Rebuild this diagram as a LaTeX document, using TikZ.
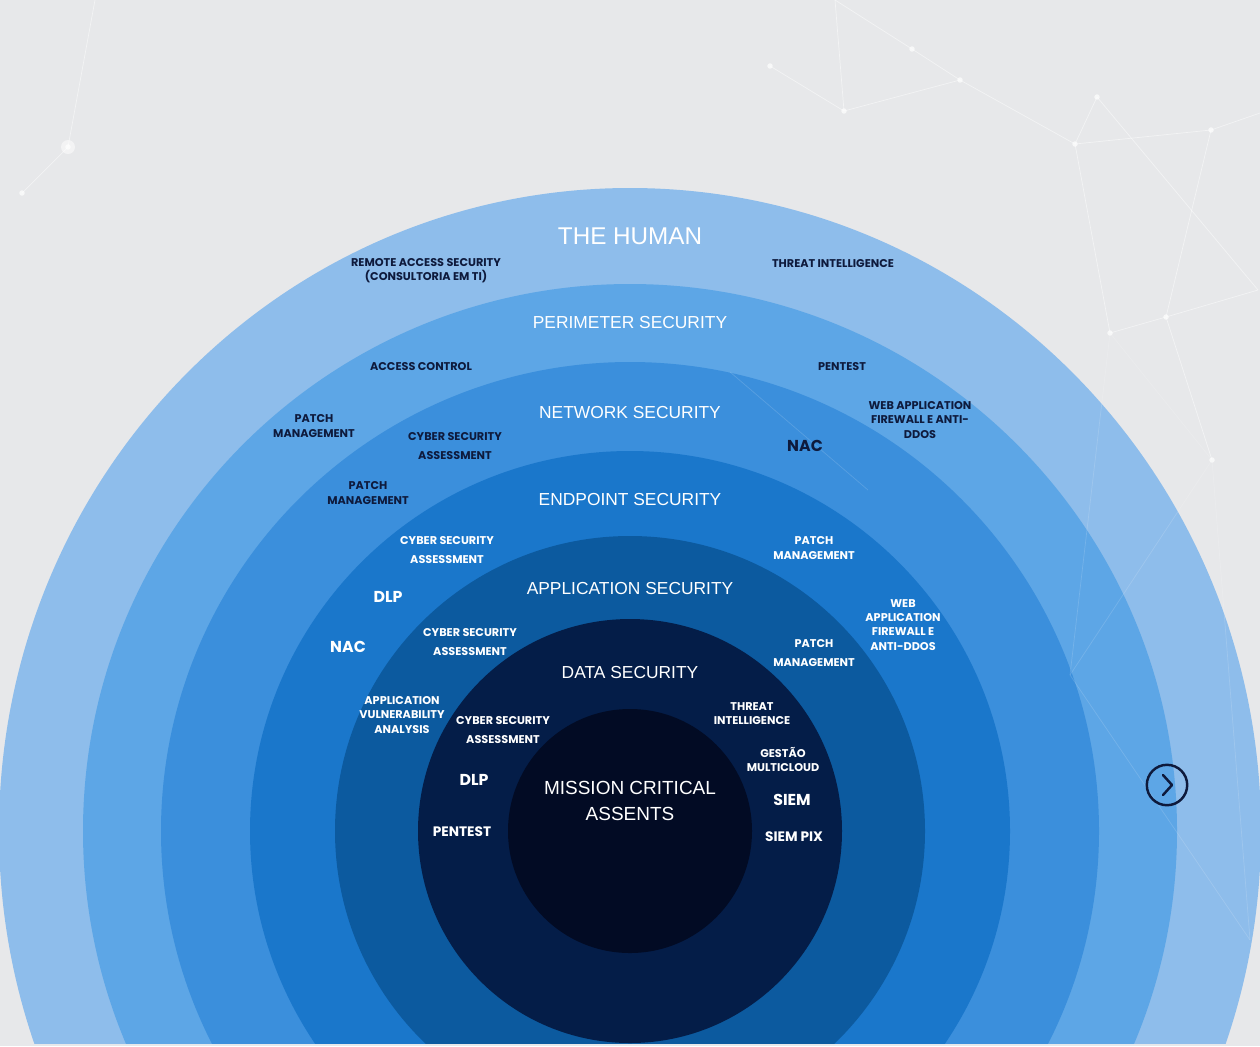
\documentclass[tikz,border=0pt]{standalone}
\usepackage{fontspec}
\setmainfont{Liberation Sans}
\newfontfamily\lblfont{Poppins}
\definecolor{bggray}{HTML}{E7E8EA}
\definecolor{ringA}{HTML}{8EBDEB}
\definecolor{ringB}{HTML}{5DA6E6}
\definecolor{ringC}{HTML}{3B8FDC}
\definecolor{ringD}{HTML}{1A77CB}
\definecolor{ringE}{HTML}{0C5A9F}
\definecolor{ringF}{HTML}{041D48}
\definecolor{ringG}{HTML}{020B24}
\definecolor{navy}{HTML}{0E1A3C}
\begin{document}
\begin{tikzpicture}[x=0.02cm,y=-0.02cm,
  ttl/.style={text=white,font=\fontsize{9.9}{12}\selectfont,inner sep=0pt},
  lbl/.style={text=navy,font=\lblfont\bfseries\fontsize{6.4}{8}\selectfont,align=center,inner sep=0pt},
  lbl loose/.style={lbl,font=\lblfont\bfseries\fontsize{6.4}{10.3}\selectfont},
  lbl big/.style={lbl,font=\lblfont\bfseries\fontsize{9}{10}\selectfont},
  lbl mid/.style={lbl,font=\lblfont\bfseries\fontsize{7.8}{9}\selectfont},
  netline/.style={white,line width=0.4pt,opacity=0.5},
  netdot/.style={circle,fill=white,inner sep=1.1pt,opacity=0.7}]
\useasboundingbox (0,0) rectangle (1260,1046);
\fill[bggray] (0,0) rectangle (1260,1046);
% background network
\coordinate (n1) at (68,147);
\coordinate (n2) at (22,193);
\coordinate (n3) at (770,66);
\coordinate (n4) at (844,111);
\coordinate (n5) at (912,49);
\coordinate (n6) at (960,80);
\coordinate (n7) at (943,7);
\coordinate (n8) at (1097,97);
\coordinate (n9) at (1075,144);
\coordinate (n10) at (1211,130);
\coordinate (n11) at (835,0);
\coordinate (n12) at (1260,113);
\coordinate (n13) at (1110,333);
\coordinate (n14) at (1166,317);
\coordinate (n15) at (1212,460);
\coordinate (n16) at (1258,290);
\coordinate (n20) at (95,0);
\foreach \a/\b in {n2/n1,n1/n20,n4/n6,n4/n3,n6/n9,n9/n10,n10/n12,n6/n5,n5/n11,n4/n11,n9/n8,n8/n16,n10/n14,n14/n16,n14/n15,n13/n14,n9/n13}
  \draw[netline] (\a) -- (\b);
\foreach \p in {n1,n2,n3,n4,n5,n6,n8,n9,n10,n13,n14,n15}
  \node[netdot] at (\p) {};
\fill[white,opacity=0.5] (n1) circle (7);
% rings
\begin{scope}
\clip (0,0) rectangle (1260,1043);
\fill[ringA] (630,831) ellipse [x radius=631, y radius=643];
\fill[ringB] (630,831) circle [radius=547];
\fill[ringC] (630,831) circle [radius=469];
\fill[ringD] (630,831) circle [radius=380];
\fill[ringE] (630,831) circle [radius=295];
\fill[ringF] (630,831) circle [radius=212];
\fill[ringG] (630,831) circle [radius=122];
\coordinate (m1) at (730,372);
\coordinate (m2) at (868,490);
\coordinate (m3) at (1070,675);
\coordinate (m4) at (1250,940);
\foreach \a/\b in {m1/m2,n13/m3,m3/n15,m3/m4,n15/m4,n13/n15}
  \draw[netline,opacity=0.15] (\a) -- (\b);
\end{scope}
% ring titles
\node[ttl,font=\fontsize{13.8}{16}\selectfont] (human) at (630,236) {THE HUMAN};
\node[ttl] (perimeter) at (630,323) {PERIMETER SECURITY};
\node[ttl] (network) at (630,412) {NETWORK SECURITY};
\node[ttl] (endpoint) at (630,499) {ENDPOINT SECURITY};
\node[ttl] (appsec) at (630,588) {APPLICATION SECURITY};
\node[ttl] (datasec) at (630,672) {DATA SECURITY};
\node[ttl,align=center,font=\fontsize{10.8}{14.8}\selectfont] (mission) at (630,801) {MISSION CRITICAL\\ASSENTS};
% outer labels
\node[lbl] (remote) at (426,271) {REMOTE ACCESS SECURITY\\(CONSULTORIA EM TI)};
\node[lbl] (threat1) at (833,264) {THREAT INTELLIGENCE};
\node[lbl] (access) at (421,367) {ACCESS CONTROL};
\node[lbl] (pentest1) at (842,367) {PENTEST};
\node[lbl] (patch1) at (314,426) {PATCH\\MANAGEMENT};
\node[lbl] (waf1) at (920,420) {WEB APPLICATION\\FIREWALL E ANTI-\\DDOS};
\node[lbl loose] (cyber1) at (455,446) {CYBER SECURITY\\ASSESSMENT};
\node[lbl big] (nac1) at (805,446) {NAC};
\node[lbl] (patch2) at (368,493) {PATCH\\MANAGEMENT};
% inner labels
\node[lbl loose,text=white] (cyber2) at (447,550) {CYBER SECURITY\\ASSESSMENT};
\node[lbl,text=white] (patch3) at (814,548) {PATCH\\MANAGEMENT};
\node[lbl big,text=white] (dlp1) at (388,597) {DLP};
\node[lbl big,text=white] (nac2) at (348,647) {NAC};
\node[lbl,text=white] (waf2) at (903,625) {WEB\\APPLICATION\\FIREWALL E\\ANTI-DDOS};
\node[lbl loose,text=white] (cyber3) at (470,642) {CYBER SECURITY\\ASSESSMENT};
\node[lbl loose,text=white] (patch4) at (814,653) {PATCH\\MANAGEMENT};
\node[lbl,text=white] (vuln) at (402,715) {APPLICATION\\VULNERABILITY\\ANALYSIS};
\node[lbl loose,text=white] (cyber4) at (503,730) {CYBER SECURITY\\ASSESSMENT};
\node[lbl,text=white] (threat2) at (752,714) {THREAT\\INTELLIGENCE};
\node[lbl,text=white] (gestao) at (783,759) {GESTÃO\\MULTICLOUD};
\node[lbl big,text=white] (dlp2) at (474,780) {DLP};
\node[lbl big,text=white] (siem) at (792,800) {SIEM};
\node[lbl mid,text=white] (pentest2) at (462,832) {PENTEST};
\node[lbl mid,text=white] (siempix) at (794,837) {SIEM PIX};
% next button
\node[circle,draw=navy,line width=1.4pt,minimum size=23pt,inner sep=0pt] (next) at (1167,785) {};
\draw[navy,line width=1.4pt,line cap=round,line join=round] (next.center) ++(-4,-10) -- ++(9,10) -- ++(-9,10);
\end{tikzpicture}
\end{document}
